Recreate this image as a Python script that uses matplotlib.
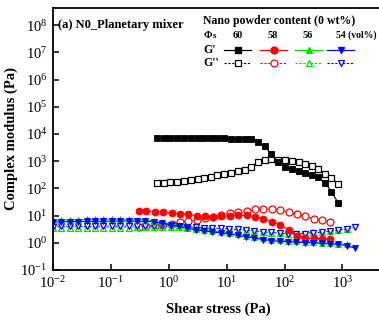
import matplotlib
matplotlib.use("Agg")
import matplotlib.pyplot as plt
from matplotlib.lines import Line2D

plt.rcParams['font.family'] = ['Liberation Serif', 'DejaVu Serif']
plt.rcParams['mathtext.fontset'] = 'custom'
plt.rcParams['mathtext.rm'] = 'Liberation Serif'
plt.rcParams['mathtext.it'] = 'Liberation Serif:italic'
plt.rcParams['mathtext.bf'] = 'Liberation Serif:bold'
plt.rcParams['mathtext.default'] = 'regular'

# ---- data: shear stress (Pa) and moduli (Pa) ----
# 60 vol%
x60 = [0.63, 0.83, 1.07, 1.41, 1.82, 2.40, 3.16, 4.07, 5.37, 6.92, 9.12, 12.0, 15.5, 20.4,
       26.3, 34.7, 45.7, 58.9, 77.6, 100, 132, 174, 224, 295, 380, 501, 646, 851]
g1_60 = [7200, 7200, 7100, 7100, 7100, 7000, 7000, 7000, 6900, 6900, 6900, 6800, 6800, 6700,
         6600, 5200, 3500, 1800, 910, 630, 500, 440, 380, 310, 260, 160, 76, 28]
g2_60 = [155, 160, 165, 178, 190, 205, 225, 245, 270, 300, 340, 380, 425, 490,
         630, 930, 1150, 1200, 1150, 1070, 1020, 930, 780, 650, 500, 340, 235, 148]

# 58 vol%
x58 = [0.30, 0.41, 0.58, 0.79, 1.12, 1.55, 2.19, 3.02, 4.17, 5.89, 8.13, 11.5, 15.8, 22.4,
       30.9, 42.7, 60.3, 83.2, 117, 162, 229, 316, 447, 617]
g1_58 = [15.1, 14.8, 14.1, 13.5, 12.6, 11.7, 11.0, 10.0, 9.3, 9.1, 9.3, 9.8, 10.2, 10.2,
         9.1, 7.6, 6.0, 4.6, 3.0, 1.8, 1.48, 1.45, 1.40, 1.35]
g2_58 = [3.8, 4.0, 4.3, 4.7, 5.1, 5.8, 6.3, 7.1, 7.9, 9.1, 10.5, 12.0, 13.5, 15.1,
         17.0, 17.4, 17.4, 15.8, 13.5, 11.5, 9.5, 7.8, 6.6, 6.0]

# 56 and 54 vol%
x54 = [0.0100, 0.0140, 0.0195, 0.0272, 0.0380, 0.0531, 0.0741, 0.1035, 0.1445, 0.2018,
       0.2818, 0.3936, 0.5495, 0.7674, 1.0715, 1.4962, 2.0893, 2.9174, 4.0738, 5.6885,
       7.9433, 11.092, 15.488, 21.627, 30.200, 42.170, 58.884, 82.224, 114.82, 160.32,
       223.87, 312.61, 436.52, 609.54, 851.14, 1188.5, 1659.6]
x56 = x54[:-1]
g1_54 = [5.75, 5.89, 6.03, 6.03, 6.17, 6.17, 6.17, 6.31, 6.31, 6.31, 6.17, 6.17, 5.89,
         5.25, 4.57, 3.98, 3.39, 3.02, 2.75, 2.51, 2.29, 2.09, 1.86, 1.66, 1.48, 1.32,
         1.20, 1.12, 1.10, 1.05, 1.02, 1.00, 0.95, 0.91, 0.87, 0.79, 0.63]
g2_54 = [3.89, 4.07, 3.98, 4.07, 3.98, 4.07, 4.07, 4.17, 4.07, 4.17, 4.17, 4.17, 4.17,
         4.17, 4.17, 4.07, 3.89, 3.72, 3.55, 3.47, 3.39, 3.24, 3.09, 2.95, 2.75, 2.57,
         2.40, 2.24, 2.09, 2.09, 2.19, 2.34, 2.45, 2.63, 2.88, 3.24, 3.72]
g1_56 = [6.6, 6.8, 7.1, 7.1, 7.2, 7.2, 7.4, 7.4, 7.4, 7.2, 7.1, 6.9, 6.5,
         5.8, 5.0, 4.4, 3.7, 3.3, 3.0, 2.75, 2.5, 2.3, 2.05, 1.82, 1.62, 1.45,
         1.32, 1.22, 1.17, 1.12, 1.07, 1.05, 1.00, 0.97, 0.93, 0.89]
g2_56 = [3.47, 3.55, 3.55, 3.47, 3.55, 3.55, 3.63, 3.55, 3.63, 3.63, 3.72, 3.72, 3.72,
         3.80, 3.80, 3.72, 3.63, 3.47, 3.39, 3.31, 3.24, 3.09, 2.95, 2.82, 2.63, 2.51,
         2.34, 2.24, 2.14, 2.19, 2.29, 2.40, 2.57, 2.75, 3.02, 3.16]

contents = ['60', '58', '56', '54 (vol%)']
colors = ['black', '#ff0000', '#00e000', '#0000ff']
filled_markers = ['s', 'o', '^', 'v']

W, H = 379, 323
fig = plt.figure(figsize=(W / 100, H / 100), dpi=100)


def fx(px):
    return px / W


def fy(py):
    return 1 - py / H


# axes box: left spine at x=53, bottom spine at y=270, top at y=8
ax = fig.add_axes([fx(53), fy(270), fx(383) - fx(53), fy(8) - fy(270)])
ax.set_xscale('log')
ax.set_yscale('log')
ax.set_xlim(1e-2, 10 ** 3.7)
ax.set_ylim(1e-1, 10 ** 8.63)

series = [
    (x60, g1_60, g2_60, 's', 3.8),
    (x58, g1_58, g2_58, 'o', 5.0),
    (x56, g1_56, g2_56, '^', 4.8),
    (x54, g1_54, g2_54, 'v', 4.8),
]
for (xs, g1, g2, mk, ms), col in zip(series, colors):
    ax.plot(xs, g2, linestyle='--', linewidth=0.6, color=col, marker=mk, markersize=ms,
            markerfacecolor='white', markeredgecolor=col, markeredgewidth=0.9)
for (xs, g1, g2, mk, ms), col in zip(series, colors):
    ax.plot(xs, g1, linestyle='-', linewidth=0.8, color=col, marker=mk, markersize=ms,
            markerfacecolor=col, markeredgecolor=col, markeredgewidth=0.6)

ax.set_xticks([1e-2, 1e-1, 1e0, 1e1, 1e2, 1e3])
ax.set_yticks([10.0 ** k for k in range(-1, 9)])
ax.minorticks_off()
ax.tick_params(which='major', direction='in', length=4, width=1.1, labelsize=10.5,
               pad=4, top=False, right=False)
for side in ['left', 'bottom', 'top']:
    ax.spines[side].set_linewidth(1.3)
ax.spines['right'].set_visible(False)

ax.set_xlabel('Shear stress (Pa)', fontsize=10.5, fontweight='bold', labelpad=8)
ax.set_ylabel('Complex modulus (Pa)', fontsize=10.5, fontweight='bold', labelpad=2)

# panel title
fig.text(fx(58), fy(25), '(a) N0_Planetary mixer', fontsize=9, fontweight='bold',
         ha='left', va='center')

# hand-built legend table
fig.text(fx(203), fy(21), 'Nano powder content (0 wt%)', fontsize=8.5, fontweight='bold',
         ha='left', va='center')
fig.text(fx(204), fy(35), 'Φ', fontsize=7.5, fontweight='bold', ha='left', va='center')
fig.text(fx(212.5), fy(36.5), 's', fontsize=6.5, fontweight='bold', ha='left', va='center')
col_x = [238, 273, 308]
for cx, lab in zip(col_x, contents[:3]):
    fig.text(fx(cx), fy(35), lab, fontsize=7.5, fontweight='bold', ha='center', va='center')
fig.text(fx(336), fy(35), contents[3], fontsize=7, fontweight='bold', ha='left', va='center')

fig.text(fx(203), fy(50), "G'", fontsize=8.5, fontweight='bold', ha='left', va='center')
fig.text(fx(203), fy(63), "G''", fontsize=8.5, fontweight='bold', ha='left', va='center')
seg = [(224, 251), (260, 287), (295, 322), (327, 354)]
for (a, b), col, mk in zip(seg, colors, filled_markers):
    mid = (a + b) / 2
    fig.add_artist(Line2D([fx(a), fx(b)], [fy(50), fy(50)], color=col, linewidth=0.9,
                          transform=fig.transFigure))
    fig.add_artist(Line2D([fx(mid)], [fy(50)], color=col, marker=mk, markersize=5,
                          markerfacecolor=col, markeredgecolor=col,
                          transform=fig.transFigure))
    fig.add_artist(Line2D([fx(a), fx(b)], [fy(63), fy(63)], color=col, linewidth=0.8,
                          linestyle=(0, (2, 1.5)), transform=fig.transFigure))
    fig.add_artist(Line2D([fx(mid)], [fy(63)], color=col, marker=mk, markersize=5,
                          markerfacecolor='white', markeredgecolor=col,
                          markeredgewidth=0.9, transform=fig.transFigure))

fig.savefig('out.png', dpi=100)
